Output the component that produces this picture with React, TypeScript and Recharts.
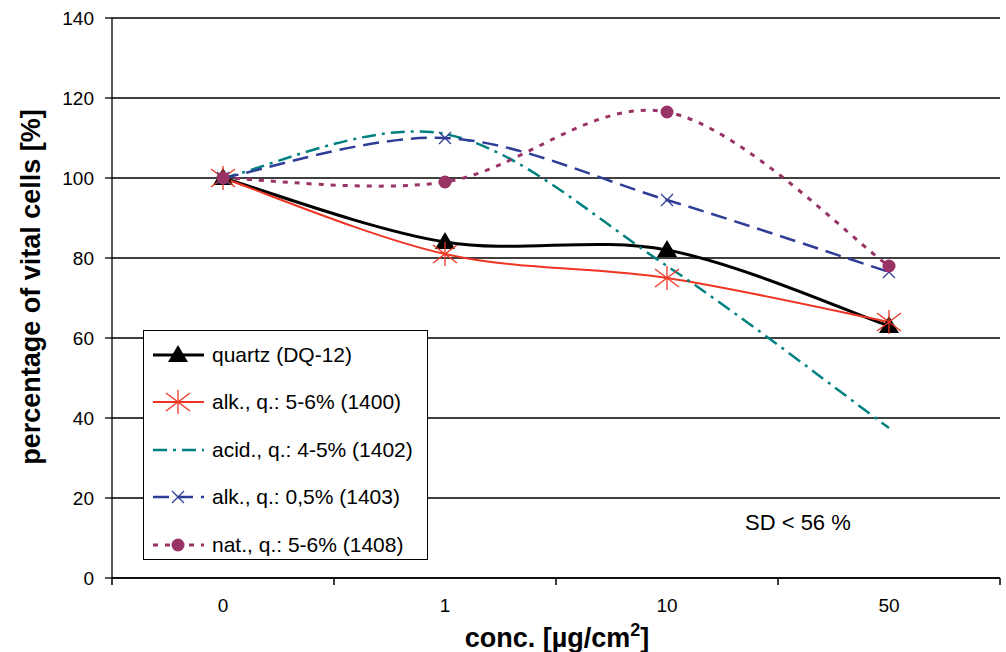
import React from 'react'
import { LineChart, Line, XAxis, YAxis, CartesianGrid, Legend } from 'recharts'

// categories on the x axis (concentration in µg/cm²)
const categories = ['0', '1', '10', '50']

// percentage of vital cells per series
const quartz = [100, 84, 82, 63]
const alk1400 = [100, 81, 75, 64]
const acid1402 = [100, 111, 78, 37.5]
const alk1403 = [100, 110, 94.5, 76.5]
const nat1408 = [100, 99, 116.5, 78]

const yTicks = [0, 20, 40, 60, 80, 100, 120, 140]

const W = 1006
const H = 652
const PLOT_LEFT = 112
const PLOT_RIGHT = 1000
const HALF_BAND = (PLOT_RIGHT - PLOT_LEFT) / categories.length / 2
const FONT = '"Liberation Sans", Arial, sans-serif'

const series = [
  { key: 'quartz', name: 'quartz (DQ-12)', color: '#000000', width: 3, dash: undefined, marker: 'triangle' },
  { key: 'alk1400', name: 'alk., q.: 5-6% (1400)', color: '#EE3524', width: 2, dash: undefined, marker: 'star' },
  { key: 'acid1402', name: 'acid., q.: 4-5% (1402)', color: '#008080', width: 2.5, dash: '14 6 3 6', marker: 'none' },
  { key: 'alk1403', name: 'alk., q.: 0,5% (1403)', color: '#2E3D96', width: 2.5, dash: '16 8', marker: 'cross' },
  { key: 'nat1408', name: 'nat., q.: 5-6% (1408)', color: '#993366', width: 3, dash: '5 7', marker: 'circle' },
]

const data = categories.map((c, i) => ({
  cat: c,
  pos: i + 0.5,
  quartz: quartz[i],
  alk1400: alk1400[i],
  acid1402: acid1402[i],
  alk1403: alk1403[i],
  nat1408: nat1408[i],
}))

// Excel-like smoothing (Catmull-Rom as cubic bezier)
function smoothCurve(context: any) {
  let pts: number[][] = []
  return {
    areaStart() {},
    areaEnd() {},
    lineStart() { pts = [] },
    point(x: number, y: number) { pts.push([+x, +y]) },
    lineEnd() {
      if (!pts.length) return
      context.moveTo(pts[0][0], pts[0][1])
      for (let i = 0; i < pts.length - 1; i++) {
        const p0 = pts[i - 1] || pts[i]
        const p1 = pts[i]
        const p2 = pts[i + 1]
        const p3 = pts[i + 2] || pts[i + 1]
        context.bezierCurveTo(
          p1[0] + (p2[0] - p0[0]) / 6, p1[1] + (p2[1] - p0[1]) / 6,
          p2[0] - (p3[0] - p1[0]) / 6, p2[1] - (p3[1] - p1[1]) / 6,
          p2[0], p2[1]
        )
      }
    },
  }
}

function Marker({ kind, cx, cy, color }: { kind: string; cx: number; cy: number; color: string }) {
  if (kind === 'triangle') {
    return <path d={`M${cx},${cy - 10} L${cx + 10},${cy + 7} L${cx - 10},${cy + 7} Z`} fill={color} />
  }
  if (kind === 'star') {
    const r = 12
    return (
      <g stroke={color} strokeWidth={1.3}>
        <line x1={cx} y1={cy - r} x2={cx} y2={cy + r} />
        <line x1={cx - r} y1={cy - r * 0.75} x2={cx + r} y2={cy + r * 0.75} />
        <line x1={cx - r} y1={cy + r * 0.75} x2={cx + r} y2={cy - r * 0.75} />
      </g>
    )
  }
  if (kind === 'cross') {
    const r = 6
    return (
      <g stroke={color} strokeWidth={1.3}>
        <line x1={cx - r} y1={cy - r} x2={cx + r} y2={cy + r} />
        <line x1={cx - r} y1={cy + r} x2={cx + r} y2={cy - r} />
      </g>
    )
  }
  if (kind === 'circle') {
    return <circle cx={cx} cy={cy} r={6.5} fill={color} />
  }
  return null
}

const makeDot = (kind: string, color: string) => (props: any) => {
  const { cx, cy, index } = props
  if (cx == null || cy == null) return <g key={index} />
  return (
    <g key={index}>
      <Marker kind={kind} cx={cx} cy={cy} color={color} />
    </g>
  )
}

const XTick = (props: any) => {
  const { x, y, index } = props
  if (index >= categories.length) return <g />
  return (
    <text x={x + HALF_BAND} y={y + 25} textAnchor="middle" fontSize={19} fontFamily={FONT} fill="#000">
      {categories[index]}
    </text>
  )
}

const LegendBox = () => (
  <div
    style={{
      width: 285,
      height: 230,
      border: '1.5px solid #000',
      background: '#fff',
      boxSizing: 'border-box',
      paddingTop: 0,
      fontFamily: FONT,
      fontSize: 21,
      color: '#000',
    }}
  >
    {series.map((s) => (
      <div key={s.key} style={{ display: 'flex', alignItems: 'center', height: 47.5 }}>
        <svg width={60} height={24} style={{ marginLeft: 8, flex: 'none' }}>
          <line x1={1} y1={12} x2={52} y2={12} stroke={s.color} strokeWidth={s.width} strokeDasharray={s.dash} />
          <Marker kind={s.marker} cx={26} cy={12} color={s.color} />
        </svg>
        <span>{s.name}</span>
      </div>
    ))}
  </div>
)

export default function App() {
  return (
    <div style={{ position: 'absolute', left: 0, top: 0, width: W, height: H, background: '#fff' }}>
      <LineChart width={W} height={H} data={data} margin={{ top: 18, right: 6, bottom: 0, left: 0 }}>
        <CartesianGrid vertical={false} stroke="#000" strokeWidth={1.3} />
        <XAxis
          dataKey="pos"
          type="number"
          domain={[0, 4]}
          ticks={[0, 1, 2, 3, 4]}
          interval={0}
          height={74}
          tickSize={7}
          tick={<XTick />}
          stroke="#000"
          strokeWidth={1.5}
          label={{
            content: () => (
              <text x={557} y={647} textAnchor="middle" fontFamily={FONT} fontWeight="bold" fontSize={27} fill="#000">
                conc. [µg/cm<tspan dy={-11} fontSize={18}>2</tspan>
                <tspan dy={11}>]</tspan>
              </text>
            ),
          }}
        />
        <YAxis
          domain={[0, 140]}
          ticks={yTicks}
          width={112}
          tickSize={7}
          tickMargin={11}
          stroke="#000"
          strokeWidth={1.3}
          tick={{ fontSize: 19, fontFamily: FONT, fill: '#000' }}
          label={{
            content: () => (
              <text
                x={40}
                y={287}
                transform="rotate(-90 40 287)"
                textAnchor="middle"
                fontFamily={FONT}
                fontWeight="bold"
                fontSize={27}
                fill="#000"
              >
                percentage of vital cells [%]
              </text>
            ),
          }}
        />
        <YAxis yAxisId="frame" orientation="right" width={0} tick={false} tickLine={false} stroke="#000" strokeWidth={1.3} domain={[0, 140]} />
        <Legend
          layout="vertical"
          align="center"
          verticalAlign="middle"
          content={<LegendBox />}
          wrapperStyle={{ left: 143, top: 330, width: 285, height: 230 }}
        />
        {series.map((s) => (
          <Line
            key={s.key}
            dataKey={s.key}
            name={s.name}
            type={smoothCurve as any}
            stroke={s.color}
            strokeWidth={s.width}
            strokeDasharray={s.dash}
            dot={makeDot(s.marker, s.color)}
            activeDot={false}
            isAnimationActive={false}
          />
        ))}
      </LineChart>
      <div style={{ position: 'absolute', left: 745, top: 510, fontFamily: FONT, fontSize: 22, color: '#000' }}>
        SD &lt; 56 %
      </div>
    </div>
  )
}
